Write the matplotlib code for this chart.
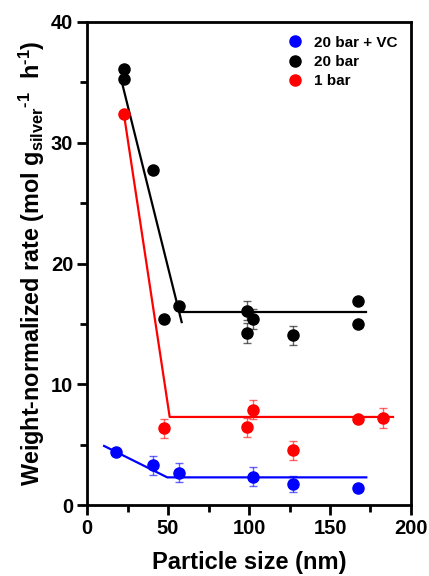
import matplotlib

matplotlib.use("Agg")

import matplotlib.pyplot as plt  # noqa: E402
from matplotlib.ticker import MultipleLocator  # noqa: E402

plt.rcParams["font.family"] = ["Liberation Sans", "DejaVu Sans"]
plt.rcParams["font.weight"] = "bold"
plt.rcParams["mathtext.fontset"] = "custom"
plt.rcParams["mathtext.rm"] = "Liberation Sans:bold"
plt.rcParams["mathtext.bf"] = "Liberation Sans:bold"
plt.rcParams["mathtext.default"] = "bf"

# 20 bar + VC
vc_x = [17.6, 40.8, 56.9, 102.3, 127.0, 167.0]
vc_y = [4.4, 3.3, 2.7, 2.35, 1.75, 1.46]
vc_err = [0.0, 0.8, 0.8, 0.8, 0.7, 0.0]
vc_fit_x = [10.5, 49.5, 172.4]
vc_fit_y = [4.9, 2.3, 2.3]

# 20 bar
b20_x = [22.7, 22.7, 40.8, 47.4, 56.9, 99.0, 99.0, 102.3, 127.0, 167.0, 167.0]
b20_y = [36.1, 35.3, 27.7, 15.4, 16.5, 16.1, 14.25, 15.4, 14.05, 16.9, 15.0]
b20_err = [0.0, 0.0, 0.0, 0.0, 0.0, 0.8, 0.8, 0.8, 0.8, 0.0, 0.0]
b20_fit1_x = [21.3, 58.4]
b20_fit1_y = [35.1, 15.15]
b20_fit2_x = [57.3, 172.4]
b20_fit2_y = [16.0, 16.0]

# 1 bar
b1_x = [22.7, 47.4, 99.0, 102.3, 127.0, 167.0, 183.0]
b1_y = [32.4, 6.36, 6.45, 7.9, 4.55, 7.1, 7.2]
b1_err = [0.0, 0.8, 0.8, 0.8, 0.8, 0.2, 0.8]
b1_fit_x = [22.7, 51.0, 188.9]
b1_fit_y = [32.4, 7.3, 7.3]

fig = plt.figure(figsize=(4.29, 5.76), dpi=100)
ax = fig.add_axes([0.203, 0.123, 0.755, 0.839])

series = [
    ("20 bar + VC", vc_x, vc_y, vc_err, "#0000FF"),
    ("20 bar", b20_x, b20_y, b20_err, "#000000"),
    ("1 bar", b1_x, b1_y, b1_err, "#FF0000"),
]
for label, xs, ys, errs, color in series:
    ax.errorbar(xs, ys, yerr=errs, fmt="none", ecolor=color, alpha=0.6,
                elinewidth=1.0, capsize=3, capthick=1.0, zorder=2)
    ax.plot(xs, ys, "o", color=color, markersize=8, label=label, zorder=3)

ax.plot(vc_fit_x, vc_fit_y, color="#0000FF", lw=1.6, zorder=1)
ax.plot(b20_fit1_x, b20_fit1_y, color="#000000", lw=1.6, zorder=1)
ax.plot(b20_fit2_x, b20_fit2_y, color="#000000", lw=1.6, zorder=1)
ax.plot(b1_fit_x, b1_fit_y, color="#FF0000", lw=1.6, zorder=1)

ax.set_xlim(0, 200)
ax.set_ylim(0, 40)
ax.xaxis.set_major_locator(MultipleLocator(50))
ax.xaxis.set_minor_locator(MultipleLocator(25))
ax.yaxis.set_major_locator(MultipleLocator(10))
ax.yaxis.set_minor_locator(MultipleLocator(5))
ax.tick_params(which="major", direction="out", length=7, width=2, labelsize=14.5, pad=3)
ax.tick_params(which="minor", direction="out", length=5, width=2)
for sp in ax.spines.values():
    sp.set_linewidth(2)

ax.set_xlabel("Particle size (nm)", fontsize=17, fontweight="bold", labelpad=9)
# U+2010 hyphen so the superscripts read "-1" like the original, not a minus sign
ax.set_ylabel("Weight-normalized rate (mol g$_{\\mathrm{silver}}$$^{\\mathrm{\u20101}}$  "
              "h$^{\\mathrm{\u20101}}$)",
              fontsize=16.8, fontweight="bold", labelpad=3)

ax.legend(loc="upper right", frameon=False, fontsize=11, handletextpad=0.6,
          labelspacing=0.35, borderaxespad=0.5, handlelength=1.2)

fig.savefig("out.png", dpi=100)
